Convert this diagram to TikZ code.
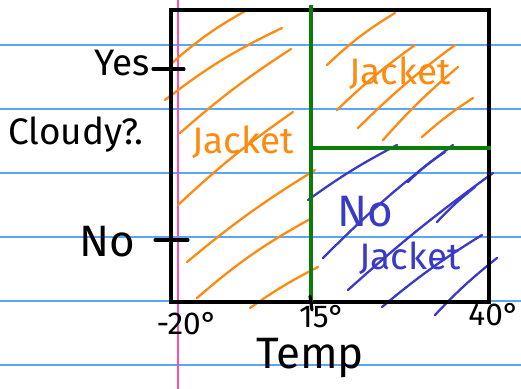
\documentclass[tikz,border=0pt]{standalone}
\usepackage{fontspec}
\setmainfont{Fira Sans}
\definecolor{padblue}{HTML}{5AA6F5}
\definecolor{padpink}{HTML}{FF4FA8}
\definecolor{hatchorange}{HTML}{FF8A10}
\definecolor{hatchblue}{HTML}{3A3AC8}
\definecolor{splitgreen}{HTML}{0B7D0B}

\begin{document}
\begin{tikzpicture}[x=0.02cm, y=-0.02cm,
    rule/.style={padblue, line width=0.8pt},
    margin/.style={padpink, line width=0.9pt},
    frame/.style={black, line width=2.3pt},
    split/.style={splitgreen, line width=2.2pt},
    ohatch/.style={hatchorange, line width=1.3pt, line cap=round},
    bhatch/.style={hatchblue, line width=1.3pt, line cap=round},
    axistick/.style={black, line width=1.8pt, line cap=round},
    lbl/.style={font=\fontsize{21}{25}\selectfont},
    biglbl/.style={font=\fontsize{25}{30}\selectfont},
    ticklbl/.style={font=\fontsize{18}{21}\selectfont},
]
    \useasboundingbox[fill=white] (0,0) rectangle (521,389);

    % lined paper
    \foreach \y in {45,109,173,237,301,365}
        \draw[rule] (0,\y) -- (521,\y);
    \draw[margin] (178,0) -- (178,389);

    % hatching: cold or cloudy -> jacket
    \draw[ohatch] (172,63) to[bend left=6] (247,10);
    \draw[ohatch] (165,100) to[bend left=6] (282,28);
    \draw[ohatch] (180,133) to[bend left=4] (291,49);
    \draw[ohatch] (178,205) to[bend left=4] (293,112);
    \draw[ohatch] (187,262) to[bend left=4] (315,170);
    \draw[ohatch] (197,298) to[bend left=6] (312,218);
    \draw[ohatch] (250,308) to[bend left=4] (318,267);
    \draw[ohatch] (327,65) to[bend left=6] (395,13);
    \draw[ohatch] (337,110) to[bend left=4] (415,45);
    \draw[ohatch] (358,128) to[bend left=4] (455,45);
    \draw[ohatch] (383,140) to[bend left=4] (458,67);
    \draw[ohatch] (422,137) to[bend left=4] (473,98);

    % hatching: warm and sunny -> no jacket
    \draw[bhatch] (308,200) to[bend left=4] (397,145);
    \draw[bhatch] (323,258) to[bend left=4] (453,145);
    \draw[bhatch] (408,182) to[bend left=6] (445,152);
    \draw[bhatch] (348,290) to[bend left=3] (493,173);
    \draw[bhatch] (437,222) to[bend left=4] (475,187);
    \draw[bhatch] (382,307) to[bend left=4] (482,235);
    \draw[bhatch] (435,315) to[bend left=4] (497,258);

    % axes box and split
    \draw[frame] (171,302) -- (171,10) -- (489,10) -- (489,302) -- cycle;
    \draw[split] (311,5) -- (311,302);
    \draw[split] (311,148) -- (491,148);

    \draw[axistick] (153,69) -- (184,69);
    \draw[axistick] (155,240) -- (188,240);
    \draw[axistick] (310,296) -- (312,310);

    \node[lbl] (yes) at (122,63) {Yes};
    \node[lbl] (cloudy) at (76,135) {Cloudy?.};
    \node[biglbl] (no) at (107,242) {No};
    \node[ticklbl] (tmin) at (187,324) {-20°};
    \node[ticklbl] (tmid) at (322,317) {15°};
    \node[ticklbl] (tmax) at (494,315) {40°};
    \node[biglbl, inner sep=1pt] (temp) at (310,358) {Temp};

    \node[lbl, hatchorange] (jleft) at (243,142) {Jacket};
    \node[lbl, hatchorange] (jright) at (400,73) {Jacket};
    \node[biglbl, hatchblue] (nolbl) at (365,212) {No};
    \node[lbl, hatchblue] (nojacket) at (410,258) {Jacket};
\end{tikzpicture}
\end{document}
